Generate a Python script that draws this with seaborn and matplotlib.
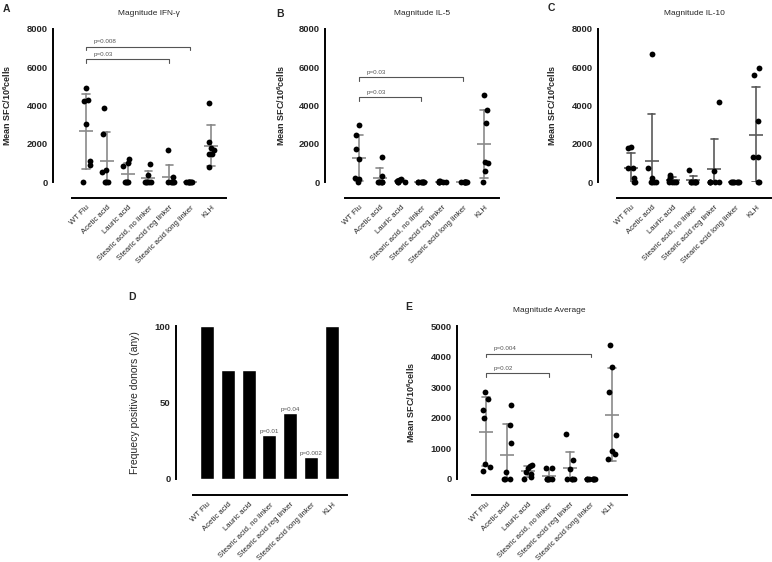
import numpy as np
import pandas as pd
import matplotlib.pyplot as plt
import seaborn as sns

groups = ['WT Flu', 'Acetic acid', 'Lauric acid', 'Stearic acid, no linker',
          'Stearic acid reg linker', 'Stearic acid long linker', 'KLH']

# mean SFC/10^6 cells per donor, one list per group (7 donors)
ifng = [
    [4930, 4310, 4240, 3050, 1100, 870, 0],
    [3850, 2530, 645, 540, 0, 0, 0],
    [1185, 1010, 855, 0, 0, 0, 0],
    [960, 380, 0, 0, 0, 0, 0],
    [1690, 240, 0, 0, 0, 0, 0],
    [0, 0, 0, 0, 0, 0, 0],
    [4150, 2070, 1780, 1650, 1440, 1440, 780],
]
il5 = [
    [2980, 2460, 1725, 1185, 190, 155, 0],
    [1330, 300, 0, 0, 0, 0, 0],
    [170, 130, 110, 40, 0, 0, 0],
    [0, 0, 0, 0, 0, 0, 0],
    [60, 30, 0, 0, 0, 0, 0],
    [0, 0, 0, 0, 0, 0, 0],
    [4570, 3740, 3110, 1020, 980, 560, 0],
]
il10 = [
    [1830, 1795, 715, 715, 190, 0, 0],
    [6710, 715, 190, 0, 0, 0, 0],
    [370, 260, 100, 0, 0, 0, 0],
    [610, 0, 0, 0, 0, 0, 0],
    [4200, 590, 0, 0, 0, 0, 0],
    [0, 0, 0, 0, 0, 0, 0],
    [5940, 5600, 3190, 1310, 1310, 0, 0],
]
avg = [
    [2835, 2620, 2260, 2000, 490, 380, 270],
    [2420, 1750, 1190, 240, 0, 0, 0],
    [470, 440, 360, 240, 160, 60, 0],
    [360, 360, 0, 0, 0, 0, 0],
    [1460, 620, 340, 0, 0, 0, 0],
    [0, 0, 0, 0, 0, 0, 0],
    [4380, 3670, 2835, 1430, 920, 830, 640],
]
freq_pos = [100, 71.4, 71.4, 28.6, 42.9, 14.3, 100]
freq_p = ['', '', '', 'p=0.01', 'p=0.04', 'p=0.002', '']

# significance brackets: (from group, to group, height, label)
brackets_a = [(0, 5, 7075, 'p=0.008'), (0, 4, 6410, 'p=0.03')]
brackets_b = [(0, 5, 5470, 'p=0.03'), (0, 3, 4420, 'p=0.03')]
brackets_e = [(0, 5, 4100, 'p=0.004'), (0, 3, 3450, 'p=0.02')]

sns.set_style('white')
plt.rcParams['font.family'] = ['Liberation Sans', 'DejaVu Sans']
plt.rcParams['mathtext.fontset'] = 'custom'
plt.rcParams['mathtext.rm'] = 'Liberation Sans'
plt.rcParams['mathtext.bf'] = 'Liberation Sans:bold'
np.random.seed(3)  # stripplot jitter

PX = 0.72  # points per pixel at 100 dpi
W, H = 772, 562
ylab = r'Mean SFC/10$^{\mathbf{6}}$cells'

fig = plt.figure(figsize=(W / 100, H / 100), dpi=100)


def add_ax(left, zero_y, width=154, height=153):
    return fig.add_axes([left / W, 1 - zero_y / H, width / W, height / H])


def style(ax, yoff, ymax, yticks, label, label_x, bold=True):
    sns.despine(ax=ax)
    ax.spines['left'].set_position(('outward', yoff * PX))
    ax.spines['bottom'].set_position(('outward', 16 * PX))
    for s in ['left', 'bottom']:
        ax.spines[s].set_linewidth(1.4)
        ax.spines[s].set_color('black')
    ax.set_xlim(-0.67, 6.72)
    ax.set_ylim(0, ymax)
    ax.set_yticks(yticks)
    ax.set_yticklabels([str(t) for t in yticks], fontsize=6.8, fontweight='bold')
    ax.set_xticks(range(len(groups)))
    ax.set_xticklabels(groups, rotation=45, ha='right', rotation_mode='anchor', fontsize=5.6)
    ax.tick_params(axis='both', length=4 * PX, width=1.3, pad=1.5, color='black')
    ax.tick_params(axis='y', pad=1)
    ax.set_xlabel('')
    ax.set_ylabel(label, fontsize=7.5 if not bold else 6.5,
                  fontweight='bold' if bold else 'normal')
    ax.yaxis.set_label_coords(label_x, 0.5)
    ax.set_facecolor('none')


def dot_panel(ax, values, title, ecol):
    df = pd.DataFrame({
        'group': np.repeat(groups, [len(v) for v in values]),
        'sfc': np.concatenate(values),
    })
    sns.pointplot(data=df, x='group', y='sfc', order=groups, errorbar='sd',
                  capsize=0.35, linestyle='none', marker='_', markersize=10,
                  markeredgewidth=1.2, color=ecol, err_kws={'linewidth': 1.2}, ax=ax)
    sns.stripplot(data=df, x='group', y='sfc', order=groups, color='black', size=4.2,
                  jitter=0.22, clip_on=False, zorder=3, ax=ax)
    ax.set_title(title, fontsize=6, pad=10)


def add_brackets(ax, brackets, drop):
    for x0, x1, y, lab in brackets:
        ax.plot([x0, x0, x1, x1], [y - drop, y, y, y - drop], color='#555555', lw=0.8)
        ax.text(x0 + 0.35, y + drop * 0.8, lab, fontsize=4.5, color='#555555',
                ha='left', va='bottom')


# A
ax_a = add_ax(72, 182)
dot_panel(ax_a, ifng, 'Magnitude IFN-γ', '#8a8a8a')
style(ax_a, 19, 8000, [0, 2000, 4000, 6000, 8000], ylab, -0.383)
add_brackets(ax_a, brackets_a, 175)

# B
ax_b = add_ax(345, 182)
dot_panel(ax_b, il5, 'Magnitude IL-5', '#8a8a8a')
style(ax_b, 20, 8000, [0, 2000, 4000, 6000, 8000], ylab, -0.377)
add_brackets(ax_b, brackets_b, 175)

# C
ax_c = add_ax(617, 182)
dot_panel(ax_c, il10, 'Magnitude IL-10', '#5a5a5a')
style(ax_c, 19, 8000, [0, 2000, 4000, 6000, 8000], ylab, -0.383)

# D
ax_d = add_ax(193, 479)
sns.barplot(x=groups, y=freq_pos, color='black', saturation=1, width=0.67,
            errorbar=None, ax=ax_d)
for i, (v, lab) in enumerate(zip(freq_pos, freq_p)):
    if lab:
        ax_d.text(i, v + 1, lab, fontsize=4.5, color='#555555', ha='center', va='bottom')
style(ax_d, 17, 100, [0, 50, 100], 'Frequecy positive donors (any)', -0.344, bold=False)

# E
ax_e = add_ax(472, 479, width=155)
dot_panel(ax_e, avg, 'Magnitude Average', '#8a8a8a')
style(ax_e, 15, 5000, [0, 1000, 2000, 3000, 4000, 5000], ylab, -0.355)
add_brackets(ax_e, brackets_e, 108)

# panel letters
for letter, x, y in [('A', 3, 9), ('B', 276, 14), ('C', 548, 8), ('D', 128, 297), ('E', 405, 307)]:
    fig.text(x / W, 1 - y / H, letter, fontsize=7.5, fontweight='bold', ha='left', va='center')

fig.savefig('out.png', dpi=100)
